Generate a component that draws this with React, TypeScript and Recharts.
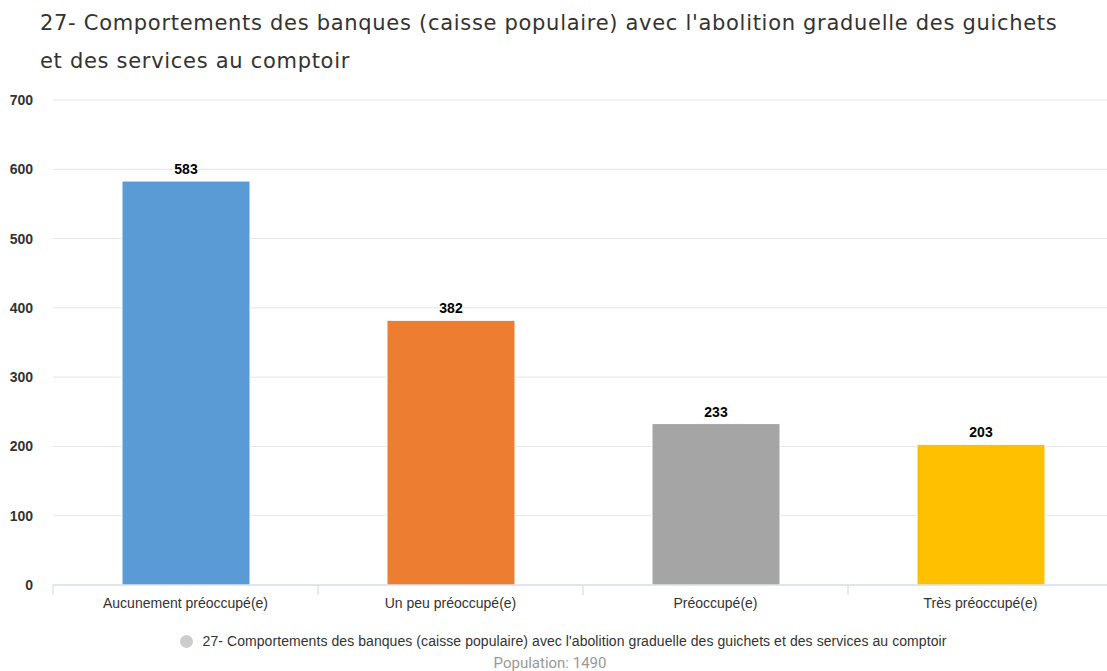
import { Bar, BarChart, CartesianGrid, Cell, LabelList, XAxis, YAxis } from 'recharts'

const categories = [
  'Aucunement préoccupé(e)',
  'Un peu préoccupé(e)',
  'Préoccupé(e)',
  'Très préoccupé(e)',
]
const counts = [583, 382, 233, 203]
const barColors = ['#5b9bd5', '#ed7d31', '#a5a5a5', '#ffc000']
const yTicks = [0, 100, 200, 300, 400, 500, 600, 700]

const titleLine1 = "27- Comportements des banques (caisse populaire) avec l'abolition graduelle des guichets"
const titleLine2 = 'et des services au comptoir'
const seriesName =
  "27- Comportements des banques (caisse populaire) avec l'abolition graduelle des guichets et des services au comptoir"
const population = 'Population: 1490'

const CHART_W = 1120
const MARGIN_L = 8
const MARGIN_R = 7
const Y_AXIS_W = 45
const BAND = (CHART_W - MARGIN_L - MARGIN_R - Y_AXIS_W) / categories.length

const ARIAL = "'Liberation Sans', Arial, sans-serif"

const data = categories.map((name, i) => ({ name, value: counts[i] }))

type TickProps = {
  x?: number
  y?: number
  payload?: { value: string }
}

function CategoryTick({ x = 0, y = 0, payload }: TickProps) {
  const left = x - BAND / 2
  return (
    <g>
      <line x1={left} x2={left} y1={y - 13} y2={y - 3} stroke="#ccd6eb" />
      <text x={x} y={y} dy="0.71em" textAnchor="middle" fill="#333333" fontSize={14} fontFamily={ARIAL}>
        {payload?.value}
      </text>
    </g>
  )
}

export default function App() {
  return (
    <div
      style={{
        position: 'absolute',
        left: 0,
        top: 0,
        width: 1107,
        height: 671,
        overflow: 'hidden',
        background: '#ffffff',
      }}
    >
      <div
        style={{
          position: 'absolute',
          left: 40,
          top: 4,
          whiteSpace: 'nowrap',
          fontFamily: "'DejaVu Sans', Verdana, sans-serif",
          fontSize: 21,
          letterSpacing: 0.7,
          lineHeight: '38px',
          color: '#333333',
        }}
      >
        <div>{titleLine1}</div>
        <div>{titleLine2}</div>
      </div>

      <div style={{ position: 'absolute', left: 0, top: 0 }}>
        <BarChart
          width={CHART_W}
          height={671}
          data={data}
          margin={{ top: 100, right: MARGIN_R, left: MARGIN_L, bottom: 56 }}
        >
          <CartesianGrid vertical={false} stroke="#e6e6e6" />
          <XAxis
            dataKey="name"
            height={30}
            tick={<CategoryTick />}
            tickLine={false}
            tickSize={6}
            tickMargin={7}
            axisLine={{ stroke: '#ccd6eb' }}
            interval={0}
          />
          <YAxis
            width={Y_AXIS_W}
            domain={[0, 700]}
            ticks={yTicks}
            axisLine={false}
            tickLine={false}
            tickMargin={14}
            tick={{ fill: '#333333', fontSize: 14, fontWeight: 'bold', fontFamily: ARIAL }}
          />
          <Bar dataKey="value" barSize={128} stroke="#ffffff" strokeWidth={1} isAnimationActive={false}>
            {data.map((d, i) => (
              <Cell key={d.name} fill={barColors[i]} />
            ))}
            <LabelList
              dataKey="value"
              position="top"
              offset={7}
              fill="#000000"
              fontSize={14}
              fontWeight="bold"
              fontFamily={ARIAL}
              stroke="#ffffff"
              strokeWidth={2}
              paintOrder="stroke"
            />
          </Bar>
        </BarChart>
      </div>

      <div
        style={{
          position: 'absolute',
          left: 0,
          width: 1126,
          top: 632,
          textAlign: 'center',
          fontFamily: ARIAL,
          fontSize: 14,
          letterSpacing: 0.07,
          color: '#333333',
          lineHeight: '18px',
          whiteSpace: 'nowrap',
        }}
      >
        <span
          style={{
            display: 'inline-block',
            width: 13,
            height: 13,
            borderRadius: 7,
            background: '#cccccc',
            verticalAlign: -2,
            marginRight: 10,
          }}
        />
        {seriesName}
      </div>
      <div
        style={{
          position: 'absolute',
          left: 0,
          width: 1100,
          top: 654,
          textAlign: 'center',
          fontFamily: 'Roboto, sans-serif',
          fontSize: 15,
          color: '#999999',
          lineHeight: '18px',
        }}
      >
        {population}
      </div>
    </div>
  )
}
